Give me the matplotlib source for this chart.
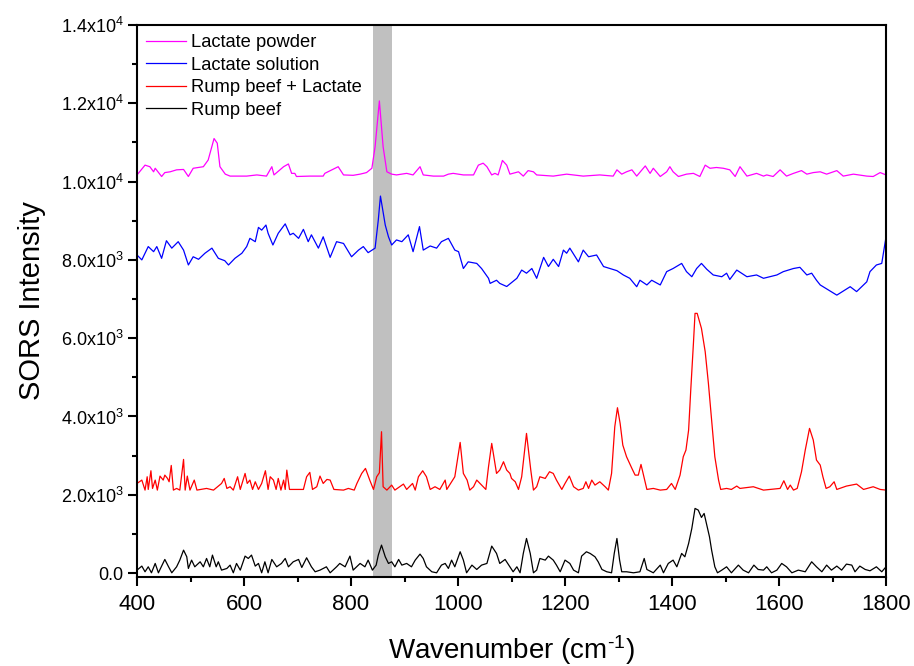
import matplotlib
matplotlib.use('Agg')
import matplotlib.pyplot as plt
from matplotlib.ticker import MultipleLocator, FixedLocator, FixedFormatter
import numpy as np

plt.rcParams['font.family'] = ['Liberation Sans', 'DejaVu Sans']
plt.rcParams['mathtext.fontset'] = 'custom'
plt.rcParams['mathtext.rm'] = 'Liberation Sans'

# (wavenumber, intensity)
lactate_powder = [
    (400, 10170), (415, 10420), (424, 10380), (431, 10250), (434, 10340), (446, 10130),
    (452, 10230), (462, 10250), (474, 10300), (487, 10310), (496, 10130), (505, 10340),
    (524, 10380), (533, 10550), (544, 11100), (550, 10980), (555, 10380), (565, 10190),
    (574, 10140), (605, 10140), (624, 10170), (642, 10140), (652, 10380), (656, 10170),
    (674, 10380), (683, 10450), (689, 10210), (695, 10210), (698, 10130), (723, 10140),
    (748, 10140), (751, 10210), (776, 10380), (786, 10170), (804, 10160), (817, 10190),
    (829, 10230), (839, 10340), (845, 10890), (853, 12060), (860, 10890), (867, 10250),
    (876, 10190), (885, 10170), (904, 10210), (916, 10170), (929, 10380), (935, 10170),
    (954, 10140), (973, 10140), (982, 10190), (991, 10210), (1010, 10170), (1029, 10170),
    (1038, 10420), (1047, 10470), (1054, 10380), (1063, 10170), (1069, 10210), (1075, 10170),
    (1083, 10540), (1091, 10420), (1097, 10190), (1113, 10250), (1122, 10140), (1131, 10280),
    (1141, 10250), (1147, 10170), (1178, 10140), (1203, 10190), (1234, 10140), (1265, 10170),
    (1290, 10140), (1297, 10300), (1306, 10190), (1315, 10250), (1325, 10300), (1334, 10140),
    (1350, 10400), (1359, 10210), (1365, 10340), (1378, 10130), (1390, 10250), (1396, 10380),
    (1402, 10250), (1412, 10130), (1427, 10190), (1440, 10210), (1452, 10130), (1462, 10420),
    (1471, 10340), (1483, 10360), (1496, 10340), (1508, 10300), (1518, 10130), (1527, 10380),
    (1540, 10140), (1558, 10210), (1571, 10140), (1577, 10170), (1589, 10130), (1602, 10300),
    (1614, 10140), (1627, 10210), (1642, 10280), (1652, 10190), (1664, 10230), (1677, 10250),
    (1689, 10190), (1708, 10280), (1720, 10140), (1739, 10190), (1764, 10140), (1776, 10130),
    (1789, 10230), (1800, 10170),
]

lactate_solution = [
    (400, 8125), (409, 8000), (421, 8340), (431, 8210), (437, 8340), (446, 8040),
    (455, 8490), (465, 8300), (477, 8465), (487, 8250), (496, 7870), (505, 8080),
    (515, 8015), (527, 8170), (540, 8300), (552, 8040), (564, 7980), (571, 7870),
    (583, 8040), (596, 8170), (605, 8340), (611, 8550), (621, 8465), (627, 8830),
    (633, 8760), (641, 8890), (645, 8680), (654, 8380), (664, 8680), (677, 8920),
    (686, 8640), (692, 8680), (702, 8550), (711, 8780), (720, 8465), (726, 8640),
    (739, 8300), (748, 8590), (761, 8065), (773, 8465), (786, 8420), (801, 8080),
    (814, 8250), (823, 8340), (832, 8185), (845, 8300), (851, 9020), (855, 9630),
    (864, 8890), (870, 8590), (876, 8380), (885, 8510), (895, 8465), (907, 8640),
    (916, 8210), (928, 8850), (935, 8250), (948, 8355), (960, 8300), (969, 8465),
    (982, 8550), (994, 8250), (1001, 8210), (1010, 7780), (1019, 7950), (1035, 7910),
    (1044, 7780), (1057, 7530), (1060, 7400), (1072, 7480), (1078, 7400), (1091, 7320),
    (1110, 7530), (1119, 7740), (1128, 7660), (1138, 7780), (1147, 7530), (1160, 8065),
    (1169, 7830), (1178, 8015), (1188, 7830), (1197, 8250), (1203, 8170), (1209, 8300),
    (1219, 8080), (1225, 7950), (1234, 8250), (1244, 8080), (1259, 8125), (1272, 7830),
    (1284, 7780), (1297, 7725), (1309, 7615), (1321, 7530), (1334, 7315), (1340, 7480),
    (1353, 7360), (1362, 7480), (1378, 7360), (1390, 7700), (1402, 7780), (1418, 7910),
    (1427, 7700), (1437, 7570), (1446, 7780), (1455, 7910), (1465, 7760), (1477, 7615),
    (1493, 7570), (1502, 7660), (1508, 7500), (1521, 7740), (1540, 7570), (1558, 7615),
    (1571, 7530), (1583, 7570), (1596, 7615), (1608, 7700), (1627, 7780), (1639, 7810),
    (1652, 7615), (1661, 7660), (1670, 7480), (1677, 7360), (1708, 7100), (1733, 7315),
    (1745, 7190), (1764, 7440), (1770, 7700), (1782, 7870), (1792, 7910), (1800, 8590),
]

beef_lactate = [
    (400, 2290), (409, 2376), (415, 2120), (419, 2461), (421, 2137), (426, 2614),
    (429, 2163), (434, 2376), (438, 2120), (443, 2478), (449, 2376), (452, 2503),
    (457, 2418), (460, 2333), (464, 2750), (468, 2120), (474, 2163), (480, 2120),
    (487, 2904), (490, 2120), (494, 2478), (499, 2120), (507, 2376), (512, 2120),
    (530, 2163), (543, 2120), (558, 2290), (563, 2418), (568, 2163), (574, 2206),
    (580, 2120), (588, 2461), (593, 2137), (602, 2546), (606, 2290), (611, 2376),
    (616, 2137), (621, 2333), (627, 2137), (633, 2290), (640, 2614), (645, 2137),
    (649, 2461), (655, 2376), (660, 2137), (664, 2418), (669, 2120), (674, 2376),
    (677, 2137), (680, 2631), (685, 2137), (711, 2137), (717, 2461), (723, 2572),
    (728, 2137), (736, 2206), (742, 2478), (748, 2290), (755, 2393), (761, 2376),
    (768, 2137), (786, 2120), (795, 2163), (806, 2120), (811, 2290), (820, 2546),
    (827, 2674), (835, 2376), (842, 2137), (848, 2461), (853, 2563), (857, 3611),
    (860, 2206), (867, 2120), (876, 2248), (882, 2120), (898, 2274), (904, 2137),
    (915, 2290), (920, 2120), (926, 2461), (934, 2614), (941, 2461), (948, 2137),
    (957, 2206), (966, 2137), (976, 2376), (979, 2137), (988, 2333), (994, 2461),
    (1004, 3338), (1010, 2546), (1017, 2376), (1022, 2120), (1029, 2206), (1035, 2376),
    (1044, 2248), (1052, 2137), (1057, 2716), (1063, 3313), (1066, 3057), (1072, 2546),
    (1078, 2631), (1085, 2844), (1091, 2631), (1097, 2546), (1100, 2418), (1107, 2333),
    (1113, 2137), (1119, 2461), (1128, 3568), (1136, 2631), (1141, 2120), (1147, 2206),
    (1153, 2461), (1163, 2418), (1171, 2589), (1178, 2546), (1184, 2376), (1194, 2137),
    (1200, 2290), (1208, 2478), (1216, 2206), (1225, 2120), (1234, 2163), (1239, 2333),
    (1244, 2163), (1250, 2376), (1256, 2248), (1265, 2333), (1275, 2206), (1281, 2120),
    (1287, 2546), (1293, 3739), (1298, 4224), (1303, 3824), (1308, 3270), (1315, 2972),
    (1325, 2674), (1331, 2503), (1337, 2503), (1342, 2776), (1346, 2546), (1353, 2137),
    (1365, 2163), (1378, 2120), (1390, 2137), (1399, 2290), (1406, 2137), (1415, 2503),
    (1421, 2972), (1426, 3142), (1431, 3653), (1435, 4675), (1440, 5868), (1443, 6634),
    (1447, 6634), (1455, 6251), (1462, 5655), (1468, 4846), (1474, 3909), (1480, 2972),
    (1487, 2376), (1491, 2137), (1502, 2163), (1511, 2137), (1521, 2223), (1527, 2163),
    (1552, 2206), (1571, 2120), (1583, 2137), (1602, 2163), (1609, 2359), (1616, 2137),
    (1621, 2248), (1627, 2120), (1634, 2163), (1642, 2589), (1649, 3142), (1657, 3696),
    (1664, 3398), (1670, 2887), (1677, 2759), (1682, 2461), (1688, 2163), (1695, 2206),
    (1703, 2333), (1708, 2137), (1726, 2223), (1745, 2274), (1758, 2137), (1776, 2206),
    (1789, 2137), (1800, 2120),
]

rump_beef = [
    (400, 76), (409, 179), (415, 34), (421, 161), (427, 8), (434, 247), (440, 8),
    (452, 349), (459, 161), (465, 8), (474, 161), (480, 332), (487, 587), (493, 417),
    (496, 119), (502, 332), (508, 161), (518, 289), (524, 161), (530, 374), (536, 161),
    (541, 460), (548, 161), (552, 289), (558, 76), (568, 119), (574, 204), (580, 8),
    (586, 247), (593, 76), (602, 434), (608, 374), (614, 460), (621, 179), (627, 247),
    (633, 8), (639, 289), (645, 8), (652, 349), (661, 161), (670, 247), (677, 374),
    (683, 161), (692, 289), (702, 349), (708, 144), (717, 391), (726, 161), (733, 34),
    (742, 76), (754, 161), (761, 8), (773, 161), (779, 247), (789, 161), (798, 434),
    (804, 76), (817, 247), (826, 161), (832, 332), (840, 76), (847, 204), (851, 460),
    (857, 715), (864, 417), (870, 247), (876, 289), (882, 161), (889, 349), (895, 204),
    (904, 247), (913, 161), (920, 332), (929, 485), (935, 374), (941, 161), (951, 34),
    (960, 8), (969, 204), (976, 247), (982, 119), (988, 332), (994, 161), (1004, 545),
    (1010, 332), (1016, 8), (1026, 204), (1035, 93), (1044, 204), (1054, 247), (1063, 690),
    (1072, 502), (1078, 247), (1088, 349), (1097, 161), (1103, 34), (1110, 161), (1116, 8),
    (1122, 502), (1128, 885), (1135, 502), (1141, 8), (1147, 76), (1153, 374), (1163, 332),
    (1169, 434), (1178, 332), (1184, 204), (1191, 34), (1200, 332), (1209, 247), (1216, 76),
    (1225, 8), (1231, 434), (1240, 545), (1247, 502), (1256, 417), (1262, 289), (1269, 93),
    (1278, 34), (1287, 8), (1292, 502), (1297, 885), (1302, 332), (1306, 34), (1315, 34),
    (1328, 8), (1340, 34), (1348, 374), (1353, 93), (1365, 8), (1378, 204), (1384, 8),
    (1393, 247), (1402, 332), (1409, 161), (1418, 502), (1424, 417), (1431, 758),
    (1437, 1141), (1443, 1652), (1449, 1609), (1455, 1422), (1460, 1524), (1465, 1226),
    (1470, 928), (1474, 587), (1480, 161), (1485, 8), (1493, 76), (1502, 161), (1511, 8),
    (1524, 204), (1533, 76), (1543, 8), (1553, 204), (1561, 93), (1571, 76), (1577, 161),
    (1586, 8), (1596, 76), (1605, 247), (1614, 161), (1624, 8), (1636, 76), (1649, 34),
    (1661, 289), (1670, 161), (1680, 34), (1689, 204), (1698, 76), (1708, 179), (1717, 76),
    (1726, 230), (1736, 204), (1742, 34), (1751, 179), (1761, 93), (1770, 59), (1782, 161),
    (1792, 34), (1800, 161),
]

series_labels = ['Lactate powder', 'Lactate solution', 'Rump beef + Lactate', 'Rump beef']
series_colors = ['#ff00ff', '#0000ff', '#ff0000', '#000000']
band = (842, 876)

y_ticks = [0, 2000, 4000, 6000, 8000, 10000, 12000, 14000]
y_tick_labels = ['0.0', r'2.0x10$\mathregular{^3}$', r'4.0x10$\mathregular{^3}$',
                 r'6.0x10$\mathregular{^3}$', r'8.0x10$\mathregular{^3}$',
                 r'1.0x10$\mathregular{^4}$', r'1.2x10$\mathregular{^4}$',
                 r'1.4x10$\mathregular{^4}$']


def main():
    fig = plt.figure(figsize=(9.14, 6.66), dpi=100)
    ax = fig.add_axes([0.1499, 0.1336, 0.8195, 0.8289])

    ax.axvspan(band[0], band[1], color='#c0c0c0', lw=0, zorder=0)

    all_series = [lactate_powder, lactate_solution, beef_lactate, rump_beef]
    for data, lab, col in zip(all_series, series_labels, series_colors):
        arr = np.array(data, dtype=float)
        ax.plot(arr[:, 0], arr[:, 1], color=col, lw=0.9, label=lab, zorder=2)

    ax.set_xlim(400, 1800)
    ax.set_ylim(-100, 14000)

    ax.xaxis.set_major_locator(MultipleLocator(200))
    ax.xaxis.set_minor_locator(MultipleLocator(100))
    ax.yaxis.set_major_locator(FixedLocator(y_ticks))
    ax.yaxis.set_major_formatter(FixedFormatter(y_tick_labels))
    ax.yaxis.set_minor_locator(MultipleLocator(1000))

    ax.tick_params(which='both', direction='out', width=1.5, top=False, right=False)
    ax.tick_params(which='major', length=6.5)
    ax.tick_params(which='minor', length=3.5)
    ax.tick_params(axis='x', labelsize=16, pad=6)
    ax.tick_params(axis='y', labelsize=13, pad=3)
    for sp in ax.spines.values():
        sp.set_linewidth(1.5)

    ax.set_xlabel(r'Wavenumber (cm$\mathregular{^{\text{-}1}}$)', fontsize=20, labelpad=13)
    ax.set_ylabel('SORS Intensity', fontsize=21, labelpad=11)

    ax.legend(loc='upper left', frameon=False, fontsize=13.2, labelspacing=0.3,
              handlelength=2.15, handletextpad=0.32, borderaxespad=0.4, borderpad=0.1)

    fig.savefig('out.png', dpi=100)


if __name__ == '__main__':
    main()
